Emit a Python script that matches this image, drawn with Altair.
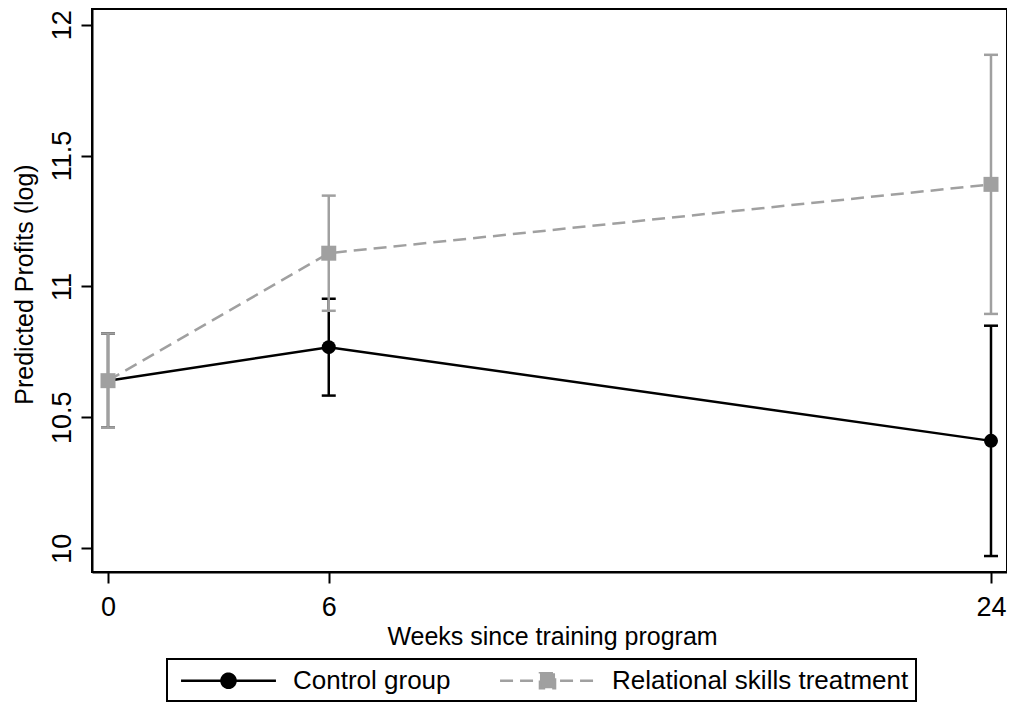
import altair as alt
import pandas as pd

# ---- data ----
weeks = [0, 6, 24]
groups = ["Control group", "Relational skills treatment"]
control_mean = [10.64, 10.768, 10.41]
control_lo = [10.46, 10.583, 9.97]
control_hi = [10.82, 10.953, 10.85]
treat_mean = [10.64, 11.127, 11.39]
treat_lo = [10.46, 10.907, 10.895]
treat_hi = [10.82, 11.347, 11.885]

x_ticks = [0, 6, 24]
y_ticks = [10, 10.5, 11, 11.5, 12]

FONT = "Liberation Sans"
BLACK = "#000000"
GRAY = "#a0a0a0"

ctrl = pd.DataFrame({"week": weeks, "mean": control_mean, "lo": control_lo, "hi": control_hi})
trt = pd.DataFrame({"week": weeks, "mean": treat_mean, "lo": treat_lo, "hi": treat_hi})

xs = alt.Scale(domain=[-0.435, 24.435], nice=False, zero=False)
ys = alt.Scale(domain=[9.909, 12.06], nice=False, zero=False)

x_axis = alt.Axis(values=x_ticks, title="Weeks since training program", grid=False,
                  tickSize=11, tickWidth=2, tickColor=BLACK, domainWidth=2, domainColor=BLACK,
                  labelFont=FONT, labelFontSize=27, labelColor=BLACK, labelPadding=11,
                  titleFont=FONT, titleFontSize=25, titleFontWeight="normal", titleColor=BLACK,
                  titleX=460, titleY=72, titleBaseline="alphabetic")
y_axis = alt.Axis(values=y_ticks, format="~g", title="Predicted Profits (log)", grid=False,
                  tickSize=11, tickWidth=2, tickColor=BLACK, domainWidth=2, domainColor=BLACK,
                  labelFont=FONT, labelFontSize=27, labelColor=BLACK, labelPadding=11,
                  labelAngle=270, labelAlign="center", labelBaseline="alphabetic",
                  titleFont=FONT, titleFontSize=25, titleFontWeight="normal", titleColor=BLACK,
                  titleAngle=270, titleX=-60, titleY=275, titleAlign="center",
                  titleBaseline="alphabetic")


def X():
    return alt.X("week:Q", scale=xs, axis=x_axis)


def Y(f):
    return alt.Y(f"{f}:Q", scale=ys, axis=y_axis)


def series(df, color, shape, size, dash):
    base = alt.Chart(df)
    rule = base.mark_rule(color=color, strokeWidth=2.5).encode(x=X(), y=Y("lo"), y2="hi")
    cap_lo = base.mark_tick(orient="horizontal", size=14, thickness=2.5, color=color, opacity=1).encode(x=X(), y=Y("lo"))
    cap_hi = base.mark_tick(orient="horizontal", size=14, thickness=2.5, color=color, opacity=1).encode(x=X(), y=Y("hi"))
    line_kw = dict(color=color, strokeWidth=2.5)
    if dash:
        line_kw["strokeDash"] = dash
    line = base.mark_line(**line_kw).encode(x=X(), y=Y("mean"))
    pts = base.mark_point(shape=shape, filled=True, size=size, color=color, opacity=1).encode(x=X(), y=Y("mean"))
    return [rule, cap_lo, cap_hi, line, pts]


# legend symbols: line + marker drawn as one custom path
path_ctrl = "M-3.65,0L3.65,0M-0.54,0A0.54,0.54,0,1,0,0.54,0A0.54,0.54,0,1,0,-0.54,0Z"
path_trt = "M-3.65,0L3.65,0M-0.58,-0.58L0.58,-0.58L0.58,0.58L-0.58,0.58Z"

leg = alt.Legend(title=None, orient="none", legendX=75, legendY=650, direction="horizontal",
                 columns=2, symbolSize=676, symbolStrokeWidth=2.5, symbolOffset=40,
                 labelOffset=50, labelFont=FONT, labelFontSize=26, labelColor=BLACK,
                 labelLimit=500, columnPadding=42, padding=7,
                 strokeColor=BLACK, fillColor="white")

legend_df = pd.DataFrame({"group": groups})
legend_layer = alt.Chart(legend_df).transform_filter("false").mark_point(
    filled=True, size=676, opacity=1, strokeWidth=2.5
).encode(
    fill=alt.Fill("group:N", scale=alt.Scale(domain=groups, range=[BLACK, GRAY]), legend=leg),
    stroke=alt.Stroke("group:N", scale=alt.Scale(domain=groups, range=[BLACK, GRAY]), legend=leg),
    shape=alt.Shape("group:N", scale=alt.Scale(domain=groups, range=[path_ctrl, path_trt]), legend=leg),
    strokeDash=alt.StrokeDash("group:N", scale=alt.Scale(domain=groups, range=[[1, 0], [13, 7]]), legend=leg),
)

layers = series(ctrl, BLACK, "circle", 196, None) + series(trt, GRAY, "square", 225, [13, 7]) + [legend_layer]

chart = alt.layer(*layers).properties(
    width=915, height=563,
    padding={"left": 84, "top": 1, "right": 0, "bottom": 131},
    autosize=alt.AutoSizeParams(type="none"),
    background="white",
).configure_view(stroke=BLACK, strokeWidth=2).configure_legend(strokeWidth=2)

chart.save("out.html", embed_options={"renderer": "svg", "actions": False})
